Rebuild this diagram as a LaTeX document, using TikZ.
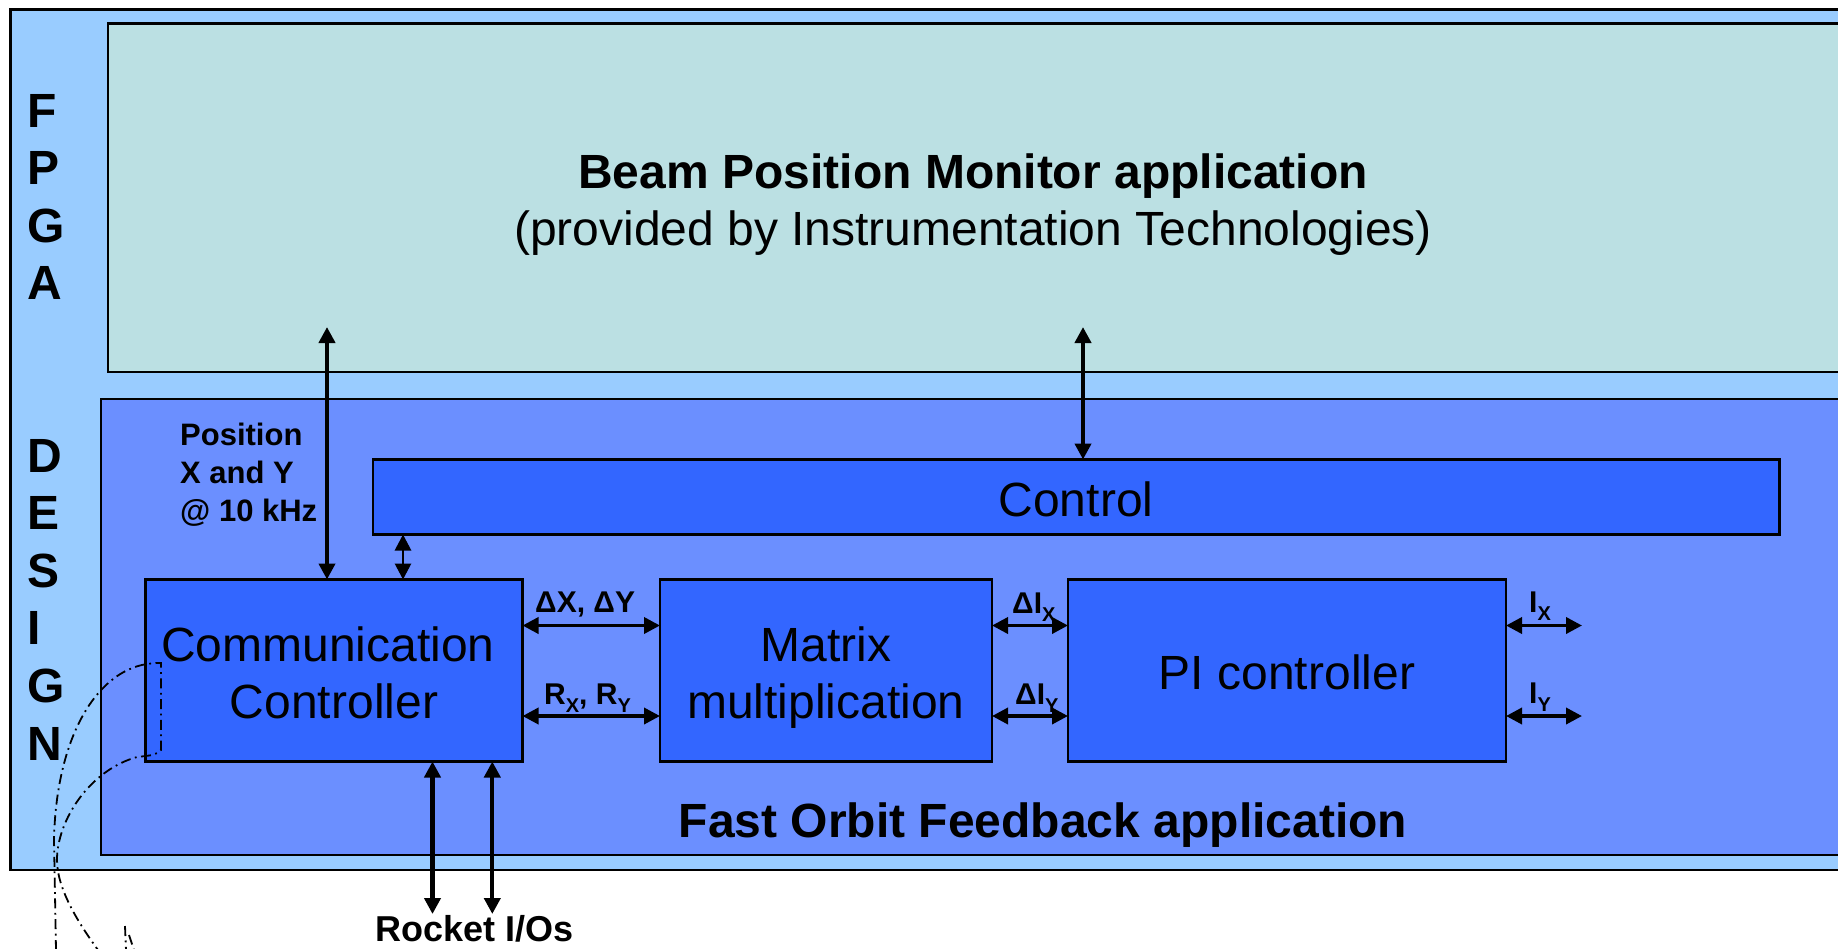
\documentclass[tikz,border=0pt]{standalone}
\usepackage{fontspec}
\setmainfont{Liberation Sans}
\usetikzlibrary{arrows.meta}
\definecolor{fpgac}{HTML}{99CCFF}
\definecolor{bpmc}{HTML}{BBE0E3}
\definecolor{fofc}{HTML}{6B8FFF}
\definecolor{blockc}{HTML}{3366FF}
\newcommand{\sbx}[1]{\raisebox{-8pt}{\fontsize{20}{20}\selectfont #1}}
\newcommand{\fbig}{\fontsize{48}{57.6}\selectfont}
\newcommand{\fmid}{\fontsize{31}{37}\selectfont}
\newcommand{\fsmall}{\fontsize{30}{36}\selectfont}
\newcommand{\frock}{\fontsize{36}{43}\selectfont}
\begin{document}
\begin{tikzpicture}[x=1pt,y=-1pt,
  box/.style={draw=black,line width=2.2pt,rectangle,inner sep=0pt,outer sep=0pt},
  blk/.style={box,fill=blockc},
  txt/.style={inner sep=0pt,anchor=base},
  txl/.style={inner sep=0pt,anchor=base west},
  dbl/.style={>={Triangle[length=16pt,width=16pt]},<->,line width=#1},
  dbl/.default=3.6pt,
  callout/.style={line width=1.8pt,dash pattern=on 10pt off 4.5pt on 1.8pt off 4.5pt}
]
\useasboundingbox (0,0) rectangle (1838,948);
\fill[white] (0,0) rectangle (1838,948);
\clip (0,0) rectangle (1838,948);

% containers
\node[box,fill=fpgac,minimum width=1889.5pt,minimum height=860.6pt] (fpga) at (955.25,439.7) {};
\node[box,fill=bpmc,minimum width=1792pt,minimum height=348.2pt] (bpm) at (1004,197.5) {};
\node[box,fill=fofc,minimum width=1799pt,minimum height=456.4pt] (fof) at (1000.5,626.8) {};

% blocks
\node[blk,minimum width=1406.6pt,minimum height=75pt] (ctrl) at (1076.1,497) {};
\node[blk,minimum width=377pt,minimum height=182pt] (comm) at (334,670.5) {};
\node[blk,minimum width=332pt,minimum height=182pt] (matrix) at (826,670.5) {};
\node[blk,minimum width=438pt,minimum height=182pt] (pi) at (1287,670.5) {};

% texts
\node[txt,font=\fbig\bfseries] (bpmtitle) at (973,188) {Beam Position Monitor application};
\node[txt,font=\fbig] (bpmsub) at (973,245.5) {(provided by Instrumentation Technologies)};
\node[txt,font=\fbig] (ctrltxt) at (1076,516) {Control};
\node[txt,font=\fbig] (commtxtA) at (328,661) {Communication};
\node[txt,font=\fbig] (commtxtB) at (334,718) {Controller};
\node[txt,font=\fbig] (mattxtA) at (826,661) {Matrix};
\node[txt,font=\fbig] (mattxtB) at (826,718) {multiplication};
\node[txt,font=\fbig] (pitxt) at (1287,689) {PI controller};
\node[txt,font=\fbig\bfseries] (foftxt) at (1043,837) {Fast Orbit Feedback application};

\foreach \l [count=\i] in {F,P,G,A}
  \node[txl,font=\fbig\bfseries] (fp\i) at (27.5,{127+57.6*(\i-1)}) {\l};
\foreach \l [count=\i] in {D,E,S,I,G,N}
  \node[txl,font=\fbig\bfseries] (ds\i) at (27.5,{472+57.6*(\i-1)}) {\l};

\node[txl,font=\fmid\bfseries] (posA) at (180,445) {Position};
\node[txl,font=\fmid\bfseries] (posB) at (180,483) {X and Y};
\node[txl,font=\fmid\bfseries] (posC) at (180,521) {@ 10 kHz};

\node[txl,font=\fsmall\bfseries] (lblDX) at (535,612.7) {ΔX, ΔY};
\node[txl,font=\fsmall\bfseries] (lblR) at (544,704) {R\sbx{X}, R\sbx{Y}};
\node[txl,font=\fsmall\bfseries] (lblDIX) at (1012,613) {ΔI\sbx{X}};
\node[txl,font=\fsmall\bfseries] (lblDIY) at (1015,704) {ΔI\sbx{Y}};
\node[txl,font=\fsmall\bfseries] (lblIX) at (1529,612.7) {I\sbx{X}};
\node[txl,font=\fsmall\bfseries] (lblIY) at (1529,703) {I\sbx{Y}};
\node[txl,font=\frock\bfseries] (rocket) at (375,941.5) {Rocket I/Os};

% connectors
\coordinate (posTop) at (327,327);
\coordinate (ctlTop) at (1083,327);
\coordinate (smx) at (403,500);
\coordinate (rowA) at (0,625.5);
\coordinate (rowB) at (0,716);
\coordinate (ixEnd) at (1582,625.5);
\coordinate (iyEnd) at (1582,716);
\coordinate (rk1) at (432.5,914);
\coordinate (rk2) at (492.3,914);

\draw[dbl=4.3pt] (posTop) -- (posTop |- comm.north);
\draw[dbl=4.3pt] (ctlTop) -- (ctlTop |- ctrl.north);
\draw[dbl=2.8pt] (smx |- ctrl.south) -- (smx |- comm.north);
\draw[dbl] (comm.east |- rowA) -- (matrix.west |- rowA);
\draw[dbl] (comm.east |- rowB) -- (matrix.west |- rowB);
\draw[dbl] (matrix.east |- rowA) -- (pi.west |- rowA);
\draw[dbl] (matrix.east |- rowB) -- (pi.west |- rowB);
\draw[dbl] (pi.east |- rowA) -- (ixEnd);
\draw[dbl] (pi.east |- rowB) -- (iyEnd);
\draw[dbl=4.3pt] (rk1 |- comm.south) -- (rk1);
\draw[dbl=4.3pt] (rk2 |- comm.south) -- (rk2);

% dash-dot callout
\draw[callout] (56,950) -- (54,840) .. controls (56,740) and (95,672) .. (147,664)
  .. controls (155,663) .. (161,663) -- (161,750)
  .. controls (155,755) .. (137,757) .. controls (90,770) and (57,820) .. (57,860)
  .. controls (57,890) and (80,925) .. (98,950);
\draw[callout] (125,926) -- (126,950);
\draw[callout] (129,935) -- (134,950);
\end{tikzpicture}
\end{document}
